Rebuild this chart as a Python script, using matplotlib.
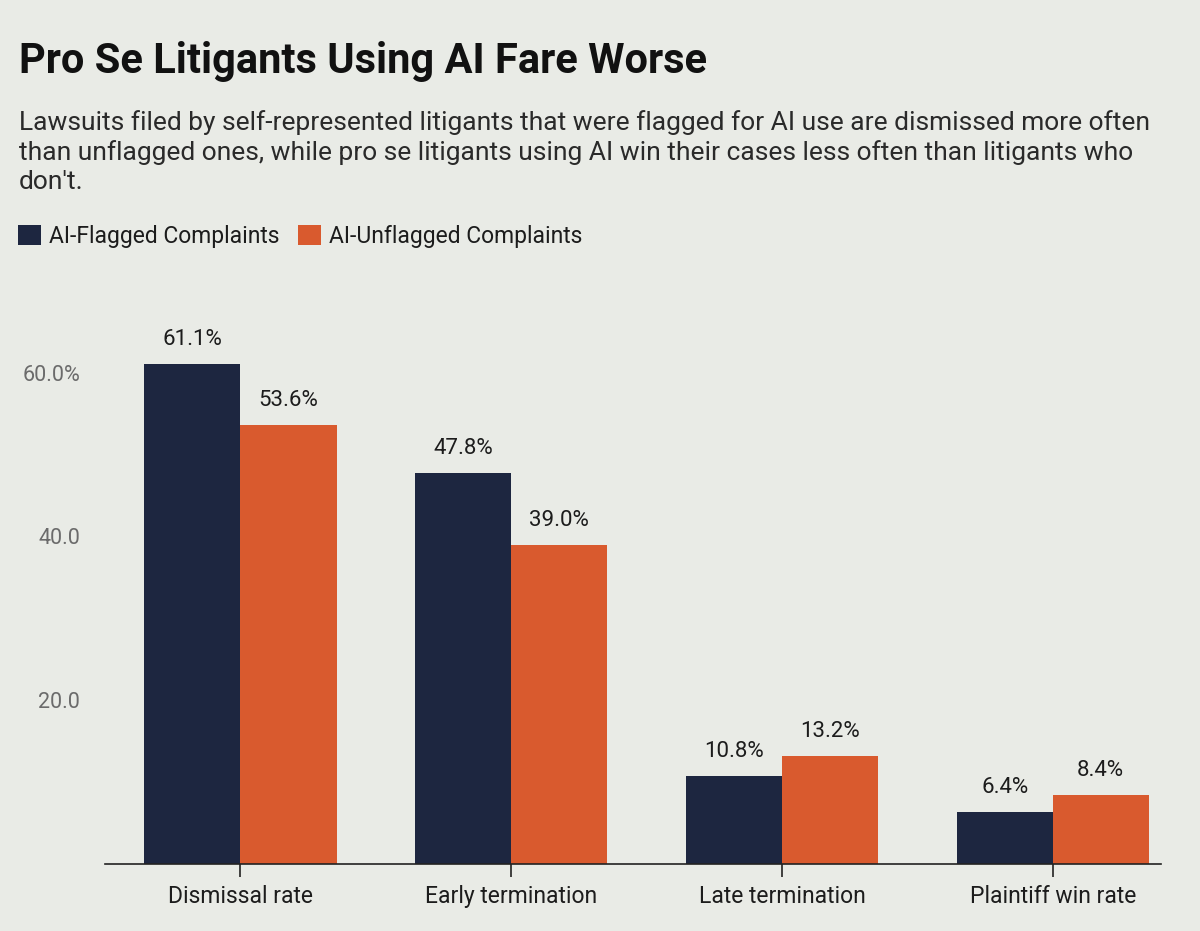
import matplotlib
matplotlib.use("Agg")
import matplotlib.pyplot as plt
import numpy as np
from matplotlib.patches import Patch

plt.rcParams["font.family"] = ["Roboto", "DejaVu Sans"]

categories = ["Dismissal rate", "Early termination", "Late termination", "Plaintiff win rate"]
flagged = [61.1, 47.8, 10.8, 6.4]
unflagged = [53.6, 39.0, 13.2, 8.4]
series_names = ["AI-Flagged Complaints", "AI-Unflagged Complaints"]
y_ticks = [20, 40, 60]
y_tick_labels = ["20.0", "40.0", "60.0%"]

NAVY = "#1d2640"
ORANGE = "#d95a2e"
BG = "#e9ebe6"
TEXT = "#1c1c1c"
GREY = "#6b6b6b"

fig = plt.figure(figsize=(12, 9.31), dpi=100, facecolor=BG)
ax = fig.add_axes([0.0875, 0.072, 0.88, 0.62], facecolor=BG)

x = np.arange(len(categories))
w = 0.355
b1 = ax.bar(x - w / 2, flagged, w, color=NAVY)
b2 = ax.bar(x + w / 2, unflagged, w, color=ORANGE)

for bars, vals in ((b1, flagged), (b2, unflagged)):
    for bar, v in zip(bars, vals):
        ax.text(bar.get_x() + bar.get_width() / 2, v + 1.7, f"{v:.1f}%",
                ha="center", va="bottom", fontsize=16, color=TEXT)

ax.set_xlim(-0.5, 3.4)
ax.set_ylim(0, 70.5)
ax.set_xticks(x)
ax.set_xticklabels(categories, fontsize=16.5, color=TEXT)
ax.set_yticks(y_ticks)
ax.set_yticklabels(y_tick_labels, fontsize=15.5, color=GREY)
ax.tick_params(axis="y", length=0, pad=18)
ax.tick_params(axis="x", length=9, width=1.2, color="#222222", pad=6)
for s in ("top", "right", "left"):
    ax.spines[s].set_visible(False)
ax.spines["bottom"].set_color("#222222")
ax.spines["bottom"].set_linewidth(1.2)

fig.text(0.016, 0.922, "Pro Se Litigants Using AI Fare Worse", fontsize=30,
         fontweight="bold", color="#111111", va="baseline")
fig.text(0.016, 0.882,
         "Lawsuits filed by self-represented litigants that were flagged for AI use are dismissed more often\n"
         "than unflagged ones, while pro se litigants using AI win their cases less often than litigants who\n"
         "don't.",
         fontsize=19, color="#2a2a2a", linespacing=1.27, va="top")

handles = [Patch(facecolor=NAVY), Patch(facecolor=ORANGE)]
fig.legend(handles, series_names, loc="upper left", bbox_to_anchor=(-0.002, 0.781),
           ncol=2, frameon=False, fontsize=16.5, handlelength=1.0, handleheight=1.0,
           handletextpad=0.35, columnspacing=0.8, labelcolor=TEXT)

fig.savefig("out.png", dpi=100, facecolor=BG)
